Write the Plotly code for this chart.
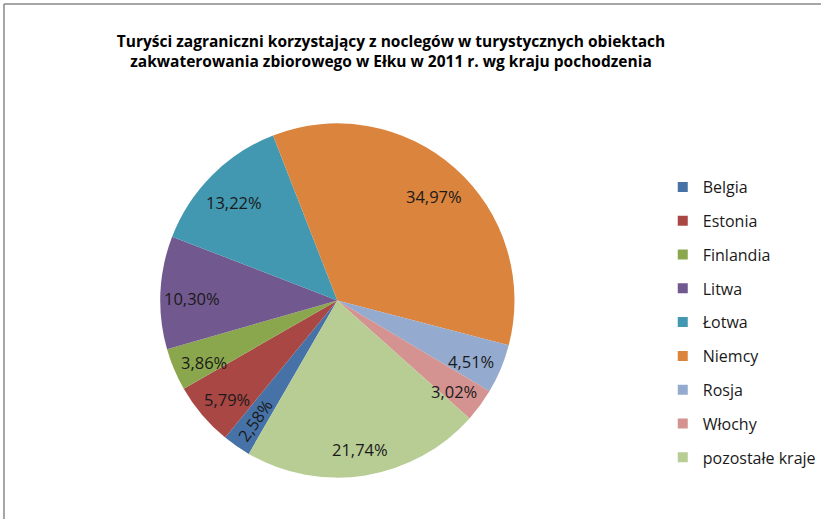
import math
import plotly.graph_objects as go

labels = ["Belgia", "Estonia", "Finlandia", "Litwa", "Łotwa", "Niemcy", "Rosja", "Włochy", "pozostałe kraje"]
values = [2.58, 5.79, 3.86, 10.30, 13.22, 34.97, 4.51, 3.02, 21.74]
text_labels = ["2,58%", "5,79%", "3,86%", "10,30%", "13,22%", "34,97%", "4,51%", "3,02%", "21,74%"]
radial_text = [True, False, False, False, False, False, False, False, False]
colors = ["#4672A8", "#A94744", "#8BA74E", "#71588F", "#4298B0", "#DA843E", "#94AACF", "#D49390", "#B8CD94"]

title = "Turyści zagraniczni korzystający z noclegów w turystycznych obiektach<br>zakwaterowania zbiorowego w Ełku w 2011 r. wg kraju pochodzenia"

FONT = "Open Sans"
W, H = 821, 519
CX, CY, R = 339, 300.5, 178   # pie centre / radius in pixels (layout)
ROT = 210
LABEL_R = 0.82
LABEL_YSHIFT = -5

fig = go.Figure()
fig.add_trace(go.Pie(
    labels=labels, values=values,
    textinfo="none", sort=False, direction="clockwise", rotation=ROT,
    marker=dict(colors=colors, line=dict(width=0)),
    showlegend=False, hoverinfo="label+percent",
    domain=dict(x=[(CX - R) / W, (CX + R) / W], y=[1 - (CY + R) / H, 1 - (CY - R) / H]),
))

# data labels placed at each slice's mid-angle, derived from values
total = sum(values)
annotations = []
cum = 0.0
for v, t, rad in zip(values, text_labels, radial_text):
    mid = math.radians(ROT + (cum + v / 2) / total * 360)
    cum += v
    px = CX + math.sin(mid) * R * LABEL_R
    py = CY - math.cos(mid) * R * LABEL_R
    ang = math.degrees(mid) - 270 if rad else 0
    annotations.append(dict(x=px / W, y=1 - py / H, xref="paper", yref="paper", text=t,
                            xanchor="center", yanchor="middle",
                            yshift=0 if rad else LABEL_YSHIFT,
                            showarrow=False, textangle=ang,
                            font=dict(family=FONT, size=16.5, color="#1a1a1a")))

for i, (lab, col) in enumerate(zip(labels, colors)):
    fig.add_trace(go.Scatter(
        x=[None], y=[None], mode="markers", name=lab,
        marker=dict(symbol="square", size=10, color=col),
        legendgroup=f"g{i}", showlegend=True,
    ))

fig.update_layout(
    width=W, height=H,
    margin=dict(l=0, r=0, t=0, b=0),
    paper_bgcolor="white", plot_bgcolor="white",
    xaxis=dict(visible=False), yaxis=dict(visible=False),
    title=dict(text=title, x=391 / W, xanchor="center", y=1 - 47 / H, yanchor="middle",
               font=dict(family=FONT, size=15.5, color="#000000", weight="bold")),
    legend=dict(x=666 / W, y=1 - 170 / H, xanchor="left", yanchor="top",
                font=dict(family=FONT, size=16, color="#1a1a1a"),
                tracegroupgap=10, itemwidth=30, bgcolor="rgba(0,0,0,0)"),
    annotations=annotations,
    shapes=[dict(type="line", xref="paper", yref="paper", x0=4 / W, x1=4 / W, y0=0, y1=1 - 4 / H,
                 line=dict(color="#888888", width=1.5)),
            dict(type="line", xref="paper", yref="paper", x0=4 / W, x1=1.01, y0=1 - 4 / H, y1=1 - 4 / H,
                 line=dict(color="#888888", width=1.5))],
)

fig.write_html("out.html", config={"displayModeBar": False},
               post_script="document.body.style.margin='0';")
